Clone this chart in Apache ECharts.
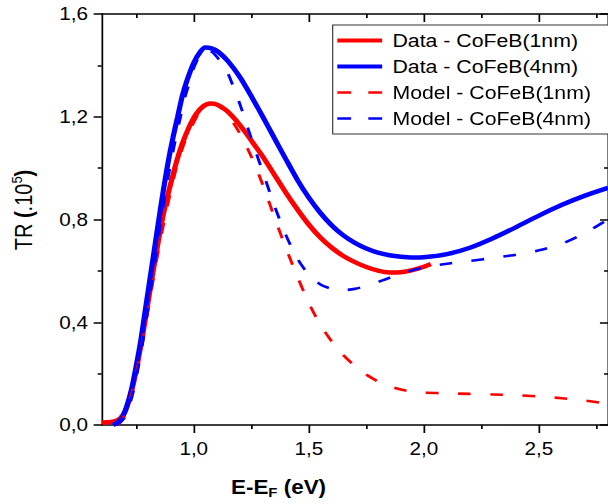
<!DOCTYPE html>
<html><head><meta charset="utf-8">
<script src="https://cdn.jsdelivr.net/npm/echarts@6/dist/echarts.min.js"></script>
<style>
html,body{margin:0;padding:0;overflow:hidden;background:#fff;width:608px;height:504px}
#c{width:528.7px;height:504px;transform:scaleX(1.15);transform-origin:0 0}
</style>
</head><body><div id="c"></div>
<script>
// ---- data ----
const xTickValues = [1.0, 1.5, 2.0, 2.5];
const xMinorValues = [0.75, 1.25, 1.75, 2.25, 2.75];
const seriesNames = ['Data - CoFeB(1nm)', 'Data - CoFeB(4nm)', 'Model - CoFeB(1nm)', 'Model - CoFeB(4nm)'];

const data1nmX = [0.60,0.64,0.66,0.68,0.70,0.72,0.74,0.76,0.78,0.80,0.82,0.845,0.87,0.90,0.925,0.95,0.98,1.01,1.04,1.07,1.10,1.14,1.18,1.22,1.26,1.30,1.35,1.40,1.45,1.50,1.55,1.60,1.65,1.70,1.75,1.80,1.85,1.90,1.95,2.00,2.03];
const data1nmY = [0.01,0.012,0.015,0.025,0.05,0.10,0.17,0.26,0.36,0.47,0.58,0.71,0.83,0.94,1.025,1.095,1.16,1.21,1.24,1.252,1.248,1.226,1.19,1.145,1.095,1.045,0.975,0.905,0.84,0.78,0.73,0.69,0.658,0.634,0.615,0.601,0.594,0.595,0.603,0.616,0.627];

const data4nmX = [0.65,0.67,0.69,0.71,0.73,0.75,0.77,0.79,0.81,0.83,0.85,0.87,0.89,0.91,0.93,0.95,0.97,1.00,1.03,1.05,1.08,1.11,1.15,1.20,1.25,1.30,1.35,1.40,1.45,1.50,1.55,1.60,1.65,1.70,1.75,1.80,1.85,1.90,1.95,2.00,2.10,2.20,2.30,2.40,2.50,2.60,2.70,2.80];
const data4nmY = [0.0,0.01,0.03,0.075,0.14,0.23,0.33,0.45,0.57,0.69,0.81,0.925,1.03,1.12,1.2,1.28,1.34,1.41,1.455,1.47,1.465,1.45,1.415,1.355,1.28,1.2,1.117,1.035,0.955,0.885,0.826,0.777,0.738,0.709,0.687,0.671,0.661,0.655,0.652,0.653,0.665,0.69,0.727,0.77,0.815,0.857,0.893,0.923];

const model1nmX = [0.67,0.69,0.71,0.73,0.75,0.77,0.79,0.81,0.83,0.855,0.88,0.905,0.93,0.96,0.99,1.02,1.05,1.08,1.11,1.15,1.20,1.25,1.30,1.35,1.40,1.45,1.50,1.55,1.60,1.65,1.70,1.75,1.80,1.85,1.90,1.95,2.00,2.10,2.20,2.30,2.40,2.50,2.60,2.70,2.80];
const model1nmY = [0.0,0.02,0.06,0.12,0.2,0.29,0.39,0.49,0.6,0.72,0.83,0.93,1.02,1.1,1.16,1.21,1.24,1.25,1.24,1.205,1.135,1.045,0.935,0.81,0.69,0.578,0.475,0.39,0.325,0.272,0.23,0.196,0.17,0.151,0.138,0.13,0.126,0.123,0.121,0.119,0.116,0.111,0.104,0.095,0.083];

const model4nmX = [0.66,0.68,0.70,0.72,0.74,0.76,0.78,0.80,0.82,0.84,0.86,0.88,0.90,0.92,0.94,0.96,0.98,1.00,1.03,1.05,1.08,1.11,1.15,1.20,1.25,1.30,1.35,1.40,1.45,1.50,1.55,1.60,1.65,1.70,1.76,1.82,1.88,1.95,2.00,2.10,2.20,2.30,2.40,2.50,2.60,2.70,2.80];
const model4nmY = [0.0,0.01,0.03,0.075,0.14,0.23,0.33,0.45,0.57,0.69,0.81,0.92,1.02,1.11,1.19,1.27,1.33,1.39,1.445,1.46,1.452,1.422,1.365,1.25,1.115,0.985,0.855,0.74,0.648,0.585,0.547,0.53,0.525,0.53,0.544,0.563,0.583,0.602,0.613,0.628,0.639,0.65,0.663,0.68,0.706,0.748,0.80];

// ---- chart ----
const S = 1.15; // horizontal stretch of the reference
const FONT = '"Liberation Sans", Arial, Helvetica, sans-serif';
const pair = (xs, ys) => xs.map((x, i) => [x, ys[i]]);
const comma = v => v.toFixed(1).replace('.', ',');
const AX = {color: '#000', width: 1.5};

const chart = echarts.init(document.getElementById('c'), null, {renderer: 'svg', width: 608 / S, height: 504});

function xAx(pos, values, len, inside, showLine, showLabel) {
  return {
    type: 'value', min: 0.6, max: 2.8, position: pos,
    splitLine: {show: false},
    axisLine: {show: showLine, onZero: false, lineStyle: AX},
    axisTick: {show: true, customValues: values, length: len, inside: inside, lineStyle: AX},
    axisLabel: showLabel ? {show: true, customValues: values, formatter: comma, fontSize: 18, fontFamily: FONT, color: '#000', margin: 14} : {show: false}
  };
}
function yAx(pos, inside, showLabel) {
  return {
    type: 'value', min: 0, max: 1.6, interval: 0.4, position: pos,
    splitLine: {show: false},
    axisLine: {show: true, onZero: false, lineStyle: AX},
    axisTick: {show: true, length: 7, inside: inside, lineStyle: AX},
    minorTick: {show: true, splitNumber: 2, length: 3.5, lineStyle: AX},
    axisLabel: showLabel ? {show: true, formatter: comma, fontSize: 18, fontFamily: FONT, color: '#000', margin: 12} : {show: false}
  };
}

const colors = ['#ff0000', '#0000ff', '#ff0000', '#0000ff'];
const xsAll = [data1nmX, data4nmX, model1nmX, model4nmX];
const ysAll = [data1nmY, data4nmY, model1nmY, model4nmY];

const series = seriesNames.map((name, i) => ({
  name: name, type: 'line', xAxisIndex: 0, yAxisIndex: 0,
  data: pair(xsAll[i], ysAll[i]),
  symbol: 'none', showSymbol: false, smooth: 0.25, clip: true,
  lineStyle: {color: colors[i], width: i < 2 ? 4.5 : 2.6, type: i < 2 ? 'solid' : [11, 17]},
  itemStyle: {color: colors[i]},
  z: 2 + i
}));

chart.setOption({
  animation: false,
  backgroundColor: '#fff',
  grid: {left: 101.7 / S, right: (608 - 612) / S, top: 14, bottom: 79, containLabel: false},
  xAxis: [
    xAx('bottom', xTickValues, 8, false, true, true),
    xAx('bottom', xMinorValues, 4, false, false, false),
    xAx('top', xTickValues, 8, true, true, false),
    xAx('top', xMinorValues, 4, true, false, false)
  ],
  yAxis: [yAx('left', false, true), yAx('right', true, false)],
  legend: {
    orient: 'vertical', left: 332.7 / S, top: 25,
    padding: [6, 16, 6, 2], itemGap: 7, itemWidth: 39, itemHeight: 14,
    borderColor: '#333', borderWidth: 1, backgroundColor: '#fff',
    selectedMode: false,
    itemStyle: {color: 'rgba(0,0,0,0)', borderColor: 'rgba(0,0,0,0)', borderWidth: 0, opacity: 0},
    textStyle: {fontSize: 18.5, fontFamily: FONT, color: '#000', lineHeight: 19, padding: [0, 0, 0, 4]},
    data: seriesNames.map((n, i) => ({
      name: n,
      itemStyle: {color: 'rgba(0,0,0,0)', borderColor: 'rgba(0,0,0,0)', borderWidth: 0, opacity: 0},
      lineStyle: {color: colors[i], width: i < 2 ? 4 : 2.6, type: i < 2 ? 'solid' : [12, 15]}
    }))
  },
  graphic: [
    {
      type: 'text', x: 24 / S, y: 210, rotation: Math.PI / 2, z: 10,
      style: {
        text: '{a|TR }{b|(}{a|.10}{s|5}{b|)}',
        align: 'center', verticalAlign: 'middle',
        rich: {
          a: {fontSize: 20, fontFamily: FONT, fill: '#000'},
          b: {fontSize: 20, fontFamily: FONT, fontWeight: 'bold', fill: '#000'},
          s: {fontSize: 13, fontFamily: FONT, fill: '#000', padding: [0, 0, 12, 0]}
        }
      }
    },
    {
      type: 'text', x: 231 / S, y: 487, z: 10,
      style: {
        text: '{b|E-E}{f|F}{b| (eV)}',
        align: 'left', verticalAlign: 'middle',
        rich: {
          b: {fontSize: 19.5, fontFamily: FONT, fontWeight: 'bold', fill: '#000'},
          f: {fontSize: 13, fontFamily: FONT, fontWeight: 'bold', fill: '#000', padding: [11, 0, 0, 0]}
        }
      }
    }
  ],
  series: series
});
</script>
</body></html>
